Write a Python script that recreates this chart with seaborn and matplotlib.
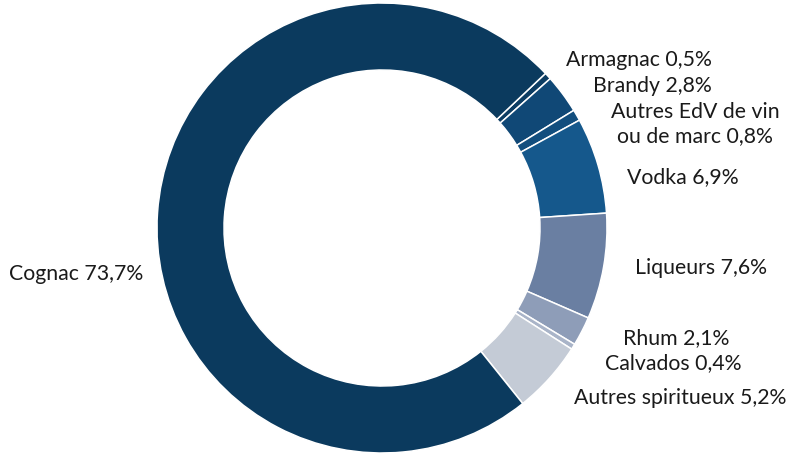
import numpy as np
import pandas as pd
import matplotlib
matplotlib.use("Agg")
import matplotlib.pyplot as plt
import seaborn as sns

# data (clockwise from the top-right)
categories = ["Armagnac", "Brandy", "Autres EdV de vin\nou de marc", "Vodka", "Liqueurs",
              "Rhum", "Calvados", "Autres spiritueux", "Cognac"]
shares = [0.5, 2.8, 0.8, 6.9, 7.6, 2.1, 0.4, 5.2, 73.7]
labels = ["Armagnac 0,5%", "Brandy 2,8%", "Autres EdV de vin\nou de marc 0,8%", "Vodka 6,9%",
          "Liqueurs 7,6%", "Rhum 2,1%", "Calvados 0,4%", "Autres spiritueux 5,2%", "Cognac 73,7%"]
colors = ["#0d3d63", "#104876", "#124e7e", "#15588c", "#6a7fa2",
          "#8e9db8", "#a9b4c8", "#c4cbd6", "#0b3a5e"]

df = pd.DataFrame({"categorie": categories, "part": shares, "label": labels})

sns.set_theme(style="white")
plt.rcParams["font.family"] = ["Lato", "DejaVu Sans"]

fig = plt.figure(figsize=(7.96, 4.55), dpi=100)
ax = fig.add_axes([0, 0, 1, 1])

R = 225.0
cx, cy = 382, 228
ax.pie(df["part"], colors=colors, startangle=43.4, counterclock=False,
       radius=1.0, center=(0, 0),
       wedgeprops=dict(width=67 / R, edgecolor="white", linewidth=1.1))

ax.set_xlim(-cx / R, (796 - cx) / R)
ax.set_ylim(-(455 - cy) / R, cy / R)
ax.set_aspect("equal")
ax.axis("off")

# label positions in pixels (centre x, centre y)
pos = [(639, 60), (652, 86), (695, 124), (683, 177), (701, 268),
       (676, 338), (673, 363), (680, 398), (76, 274)]
for lab, (px, py) in zip(df["label"], pos):
    ax.text((px - cx) / R, (cy - py) / R, lab, ha="center", va="center",
            fontsize=15.3, color="#1a1a1a", linespacing=1.2)

fig.savefig("out.png", dpi=100)
